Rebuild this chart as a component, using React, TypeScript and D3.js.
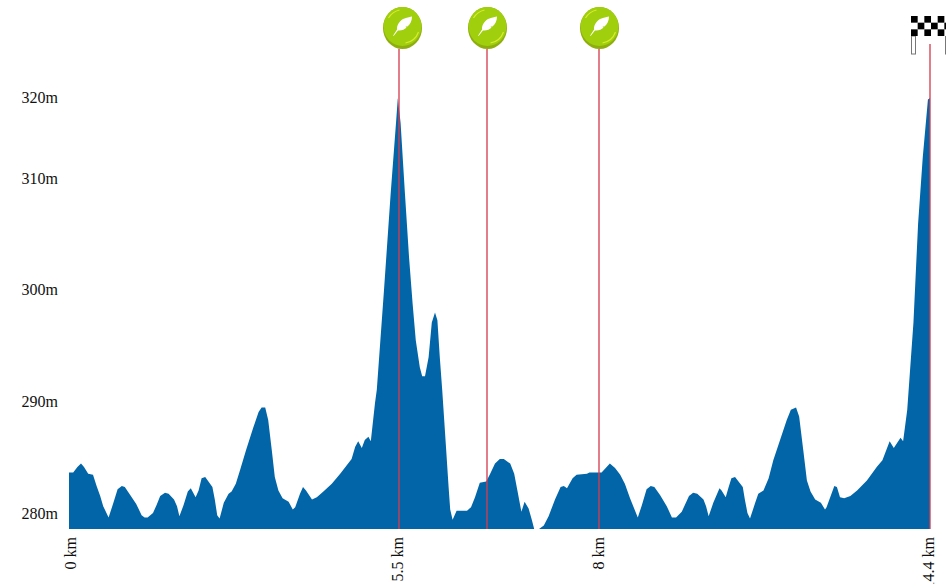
import React from "react";
import * as d3 from "d3";

const distanceKm = [0,.07,.14,.2,.25,.32,.4,.46,.52,.57,.66,.74,.81,.88,.93,1.02,1.12,1.21,1.26,1.31,1.4,1.46,1.52,1.6,1.66,1.75,1.8,1.84,1.91,1.98,2.03,2.11,2.16,2.21,2.27,2.39,2.43,2.47,2.51,2.58,2.66,2.71,2.78,2.85,2.95,3.07,3.16,3.21,3.27,3.32,3.38,3.43,3.49,3.56,3.66,3.73,3.77,3.85,3.9,3.95,4.05,4.13,4.24,4.38,4.52,4.71,4.77,4.82,4.88,4.93,4.99,5.03,5.1,5.13,5.25,5.36,5.45,5.48,
5.52,5.575,5.625,5.67,5.71,5.76,5.79,5.825,5.87,5.91,5.95,5.98,6.01,6.04,6.09,6.12,6.14,6.17,6.22,6.35,6.4,6.45,6.51,6.59,6.64,6.7,6.76,6.81,6.89,6.94,6.98,7.03,7.07,7.12,7.16,7.19,7.25,7.31,7.37,7.45,7.52,7.56,7.6,7.67,7.72,7.85,7.88,
8.05,8.21,8.31,8.41,8.5,8.6,8.75,8.83,8.92,9,9.07,9.18,9.31,9.41,9.49,9.6,9.74,9.82,9.9,10.02,10.07,10.12,10.21,10.33,10.37,10.45,10.5,10.56,10.63,10.78,10.82,10.87,10.92,11.02,11.08,11.18,11.28,11.37,11.63,11.71,11.81,11.87,11.95,12.02,12.09,12.18,12.29,12.37,12.4,12.55,12.6,12.66,12.74,12.86,12.99,13.18,13.37,13.48,13.62,13.7,13.83,13.88,13.96,14.08,14.17,14.26,14.36,14.4];

const elevationM = [283.7,283.7,284.2,284.5,284.2,283.6,283.5,282.5,281.6,280.7,279.7,281,282.2,282.5,282.4,281.7,280.9,279.9,279.7,279.7,280.1,280.8,281.6,281.9,281.8,281.3,280.7,279.8,280.8,282,282.3,281.5,282.1,283.2,283.3,282.4,281.3,279.9,279.6,281,281.8,282,282.7,283.9,285.7,287.7,289.1,289.5,289.5,288.4,285.7,283.3,282.1,281.4,281.1,280.4,280.6,281.8,282.4,282.1,281.3,281.5,282,282.7,283.6,284.9,286,286.5,285.9,286.6,286.9,286.5,289.9,291.1,300,308.6,316.9,320,
316.9,308.6,303,298.8,295.5,293.1,292.3,292.3,294,297.1,298,297.3,294,291.1,285.7,282.4,280.4,279.5,280.3,280.3,280.6,281.5,282.8,282.9,283.6,284.5,284.9,284.9,284.5,283.6,282.1,280.2,281.1,280.5,279.5,278.7,278.7,279,279.8,281.3,282.4,282.5,282.3,283.2,283.5,283.6,283.7,
283.7,284.5,284.1,283.5,282.7,281.4,279.7,280.8,282.2,282.5,282.4,281.7,280.7,279.7,279.7,280.2,281.6,281.9,281.8,281.3,280.7,279.8,281,282.3,282.1,281.5,282.3,283.2,283.3,282.4,281.3,280.1,279.6,281,281.8,282.1,283.2,284.8,288.4,289.3,289.5,288.7,285.7,283,282,281.3,281,280.4,280.6,282.5,282.4,281.5,281.4,281.6,282.1,283,284.2,284.8,286.5,285.9,286.8,286.5,289.3,297.1,306,312.7,319.8,320];

const elevationTicks = [280, 290, 300, 310, 320];
const distanceTicks = [0, 5.5, 8, 14.4];
const pinKm = [5.5, 6.6, 8];
const finishKm = 14.4;

const x = d3.scaleLinear().domain([0, 5.5, 8, 14.4]).range([69, 399, 599, 930]);
const y = d3.scaleLinear().domain([278.7, 280, 290, 300, 310, 320]).range([529, 514, 402, 290, 179, 98]);

const area = d3.area<number>()
  .x((_, i) => x(distanceKm[i]))
  .y0(y(278.7))
  .y1((d) => y(d));

const FEATHER = "M-9.5 9.7 L-5.5 3.5 C-6 -1 -2 -6.5 2 -7.5 C5 -8.5 8 -9.5 9.5 -9.5 C9.5 -5 7.5 -1.5 5 0.5 L3 0.5 L4 1.5 C2 3.5 -1 5 -4.5 4.5 L-8.7 9.7 Z";

function Pin({ km, dx }: { km: number; dx: number }) {
  const lx = x(km);
  const cx = Math.round(lx) + dx + 0.5;
  return (
    <g>
      <ellipse cx={cx} cy={28} rx={19.5} ry={21} fill="#8dae0e" />
      <ellipse cx={cx} cy={26.5} rx={19} ry={19.5} fill="#9fcf0d" />
      <path d={`M${cx - 14} ${18} A17 17 0 0 1 ${cx - 3} ${10}`} fill="none" stroke="#d8ec30" strokeWidth={1.2} />
      <path d={`M${cx + 3} ${43} A17 17 0 0 0 ${cx + 16} ${32}`} fill="none" stroke="#d8ec30" strokeWidth={1.2} />
      <path d={FEATHER} transform={`translate(${cx},${26})`} fill="#ffffff" />
    </g>
  );
}

function Flag({ km }: { km: number }) {
  const left = x(km) - 19;
  const cells = d3.range(3).flatMap((r) => d3.range(6).map((c) => ({ r, c })));
  const size = 6.67;
  return (
    <g>
      <rect x={left + 0.5} y={36} width={4} height={18} fill="#ffffff" stroke="#777777" />
      <rect x={left + 34.5} y={36} width={4} height={18} fill="#ffffff" stroke="#777777" />
      <rect x={left} y={16} width={35} height={20} fill="#ffffff" />
      {cells.filter((d) => (d.r + d.c) % 2 === 0).map((d) => (
        <rect key={`${d.r}-${d.c}`} x={left + d.c * size} y={16 + d.r * size} width={size} height={size} fill="#000000" />
      ))}
    </g>
  );
}

const labelNudge = [2, -1, 0, -1];
const RED = "#d63c4e";

export default function App() {
  return (
    <svg width={946} height={584} style={{ position: "absolute", left: 0, top: 0, background: "#fff" }} fontFamily="'Liberation Serif', serif" fontSize={16}>
      <path d={area(elevationM) ?? ""} fill="#0265a8" />
      {pinKm.map((km) => (
        <line key={km} x1={x(km)} x2={x(km)} y1={49} y2={y(278.7)} stroke={RED} strokeOpacity={0.95} strokeWidth={1.4} />
      ))}
      <line x1={x(finishKm)} x2={x(finishKm)} y1={44} y2={y(278.7)} stroke={RED} strokeOpacity={0.95} strokeWidth={1.4} />
      {pinKm.map((km, i) => <Pin key={km} km={km} dx={i === 0 ? 3 : 0} />)}
      <Flag km={finishKm} />
      {elevationTicks.map((t) => (
        <text key={t} x={58} y={y(t)} dy="0.32em" textAnchor="end" fill="#111">{t}m</text>
      ))}
      {distanceTicks.map((t, i) => (
        <text key={t} transform={`translate(${x(t) + labelNudge[i]},537) rotate(-90)`} dy="0.32em" textAnchor="end" fill="#111">{t} km</text>
      ))}
    </svg>
  );
}
